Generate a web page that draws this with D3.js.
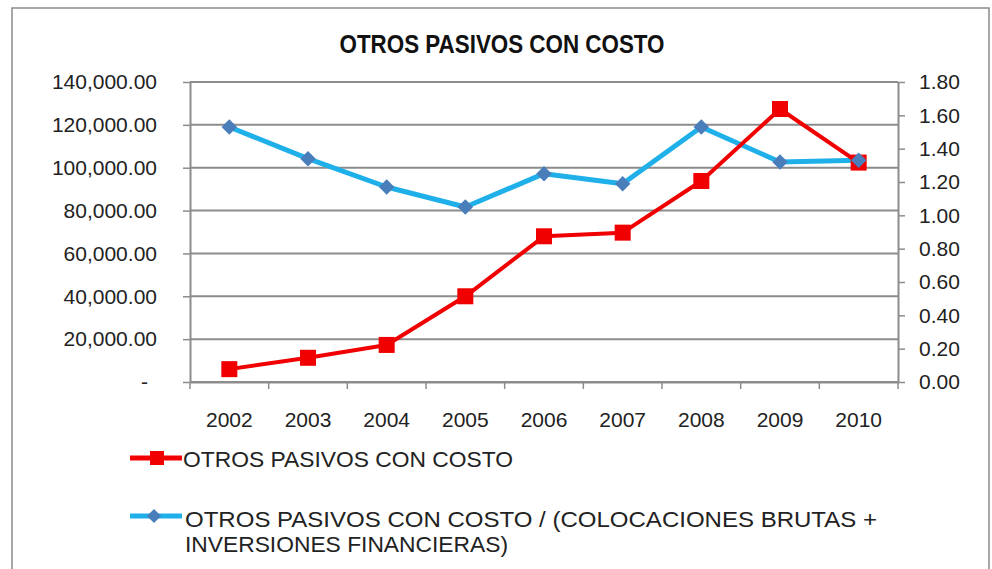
<!DOCTYPE html>
<html>
<head>
<meta charset="utf-8">
<script src="https://cdn.jsdelivr.net/npm/d3@7"></script>
<style>
  body { margin: 0; background: #fff; }
  svg { display: block; }
</style>
</head>
<body>
<script>
// Chart data.
var years = ["2002", "2003", "2004", "2005", "2006", "2007", "2008", "2009", "2010"],
  pasivos = [6000, 11300, 17300, 40000, 68000, 69700, 93800, 127400, 102400],
  ratio = [1.53, 1.34, 1.17, 1.05, 1.25, 1.19, 1.53, 1.32, 1.33],
  leftTicks = [0, 20000, 40000, 60000, 80000, 100000, 120000, 140000],
  rightTicks = [0, 0.2, 0.4, 0.6, 0.8, 1.0, 1.2, 1.4, 1.6, 1.8];

var titleText = "OTROS PASIVOS CON COSTO",
  legendRed = "OTROS PASIVOS CON COSTO",
  legendBlue = ["OTROS PASIVOS CON COSTO / (COLOCACIONES BRUTAS +", "INVERSIONES FINANCIERAS)"];

// Configuration parameters.
var width = 992,
  height = 569,
  plotLeft = 190,
  plotRight = 898,
  plotTop = 82,
  plotBottom = 382,
  gridColor = "#8c8c8c",
  redColor = "#f00000",
  blueLine = "#1fb0ea",
  blueMarker = "#4a7ebb",
  font = "'Liberation Sans', Arial, sans-serif",
  leftFormat = d3.format(",.2f"),
  rightFormat = d3.format(".2f");

var svg = d3.select("body").append("svg")
    .attr("width", width)
    .attr("height", height);

// Outer frame.
svg.append("rect")
    .attr("x", 12)
    .attr("y", 8)
    .attr("width", 977)
    .attr("height", 600)
    .attr("fill", "#fff")
    .attr("stroke", "#8a8a8a")
    .attr("stroke-width", 1.5);

// Scales.
var x = d3.scaleBand()
    .domain(years)
    .range([plotLeft, plotRight]),
  yLeft = d3.scaleLinear()
    .domain([0, 140000])
    .range([plotBottom, plotTop]),
  yRight = d3.scaleLinear()
    .domain([0, 1.8])
    .range([plotBottom, plotTop]);

// Title.
svg.append("text")
    .attr("x", 502)
    .attr("y", 53)
    .attr("text-anchor", "middle")
    .attr("textLength", 325)
    .attr("lengthAdjust", "spacingAndGlyphs")
    .style("font-family", "'Liberation Sans Narrow', " + font)
    .style("font-weight", "bold")
    .style("font-size", "25px")
    .style("fill", "#111")
    .text(titleText);

// Gridlines.
svg.append("g")
  .selectAll("line")
    .data(leftTicks)
  .enter().append("line")
    .attr("x1", plotLeft)
    .attr("x2", plotRight)
    .attr("y1", function(d) { return yLeft(d); })
    .attr("y2", function(d) { return yLeft(d); })
    .attr("stroke", gridColor)
    .attr("stroke-width", 2);

// Axes.
function styleAxis(g) {
  g.select(".domain").attr("stroke", gridColor).attr("stroke-width", 2);
  g.selectAll(".tick line").attr("stroke", gridColor).attr("stroke-width", 1.5);
  g.selectAll(".tick text")
      .style("font-family", font)
      .style("font-size", "21px")
      .style("fill", "#222");
}

svg.append("g")
    .attr("transform", "translate(" + plotLeft + ",0)")
    .call(d3.axisLeft(yLeft)
      .tickValues(leftTicks)
      .tickSizeInner(7)
      .tickSizeOuter(0)
      .tickPadding(26)
      .tickFormat(function(d) { return d === 0 ? "-" : leftFormat(d); }))
    .call(styleAxis)
    .selectAll(".tick text")
      .attr("dx", function(d) { return d === 0 ? "-9" : "0"; });

svg.append("g")
    .attr("transform", "translate(" + plotRight + ",0)")
    .call(d3.axisRight(yRight)
      .tickValues(rightTicks)
      .tickSizeInner(7)
      .tickSizeOuter(0)
      .tickPadding(14)
      .tickFormat(rightFormat))
    .call(styleAxis);

var xAxis = svg.append("g")
    .attr("transform", "translate(0," + plotBottom + ")")
    .call(d3.axisBottom(x)
      .tickSize(0)
      .tickPadding(30))
    .call(styleAxis);

// Category boundary ticks on the x axis.
xAxis.selectAll(".band-tick")
    .data(years.concat(["end"]))
  .enter().append("line")
    .attr("class", "band-tick")
    .attr("x1", function(d, i) { return plotLeft + i * x.step(); })
    .attr("x2", function(d, i) { return plotLeft + i * x.step(); })
    .attr("y1", 0)
    .attr("y2", 7)
    .attr("stroke", gridColor)
    .attr("stroke-width", 1.5);

// Series lines.
var cx = function(d, i) { return x(years[i]) + x.bandwidth() / 2; };

svg.append("path")
    .datum(ratio)
    .attr("fill", "none")
    .attr("stroke", blueLine)
    .attr("stroke-width", 5)
    .attr("stroke-linejoin", "round")
    .attr("d", d3.line().x(cx).y(function(d) { return yRight(d); }));

svg.append("path")
    .datum(pasivos)
    .attr("fill", "none")
    .attr("stroke", redColor)
    .attr("stroke-width", 4)
    .attr("stroke-linejoin", "round")
    .attr("d", d3.line().x(cx).y(function(d) { return yLeft(d); }));

// Markers.
svg.append("g")
  .selectAll("rect")
    .data(pasivos)
  .enter().append("rect")
    .attr("x", function(d, i) { return cx(d, i) - 8; })
    .attr("y", function(d) { return yLeft(d) - 8; })
    .attr("width", 16)
    .attr("height", 16)
    .attr("fill", redColor);

svg.append("g")
  .selectAll("path")
    .data(ratio)
  .enter().append("path")
    .attr("transform", function(d, i) {
      return "translate(" + cx(d, i) + "," + yRight(d) + ") rotate(45)";
    })
    .attr("d", d3.symbol().type(d3.symbolSquare).size(120))
    .attr("fill", blueMarker);

// Legend.
var legend = svg.append("g");

legend.append("line")
    .attr("x1", 130).attr("x2", 182)
    .attr("y1", 458).attr("y2", 458)
    .attr("stroke", redColor)
    .attr("stroke-width", 5);
legend.append("rect")
    .attr("x", 150).attr("y", 451)
    .attr("width", 14).attr("height", 14)
    .attr("fill", redColor);
legend.append("text")
    .attr("x", 183)
    .attr("y", 467)
    .attr("textLength", 330)
    .attr("lengthAdjust", "spacingAndGlyphs")
    .style("font-family", font)
    .style("font-size", "22px")
    .style("fill", "#222")
    .text(legendRed);

legend.append("line")
    .attr("x1", 130).attr("x2", 182)
    .attr("y1", 516).attr("y2", 516)
    .attr("stroke", blueLine)
    .attr("stroke-width", 5);
legend.append("path")
    .attr("transform", "translate(154,516) rotate(45)")
    .attr("d", d3.symbol().type(d3.symbolSquare).size(100))
    .attr("fill", blueMarker);
legend.selectAll(".blue-label")
    .data(legendBlue)
  .enter().append("text")
    .attr("class", "blue-label")
    .attr("x", 185)
    .attr("y", function(d, i) { return 527 + i * 25; })
    .attr("textLength", function(d, i) { return i === 0 ? 692 : 323; })
    .attr("lengthAdjust", "spacingAndGlyphs")
    .style("font-family", font)
    .style("font-size", "22px")
    .style("fill", "#222")
    .text(function(d) { return d; });
</script>
</body>
</html>
